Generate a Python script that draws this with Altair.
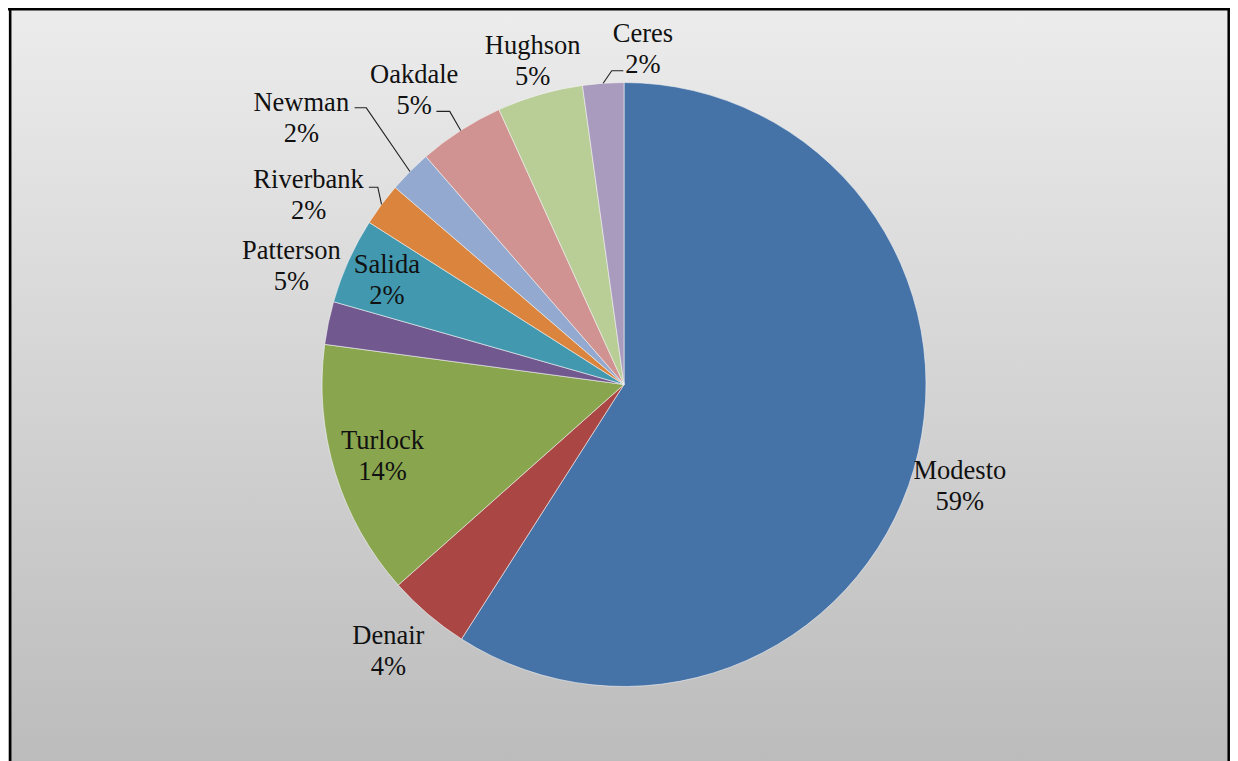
import math
import altair as alt
import pandas as pd

# ---- data ----
towns = ["Modesto", "Denair", "Turlock", "Salida", "Patterson",
         "Riverbank", "Newman", "Oakdale", "Hughson", "Ceres"]
shares = [59.1, 4.4, 13.7, 2.3, 4.6, 2.3, 2.3, 4.6, 4.6, 2.2]
pct_labels = ["59%", "4%", "14%", "2%", "5%", "2%", "2%", "5%", "5%", "2%"]
colors = ["#4572A7", "#AA4643", "#89A54E", "#71588F", "#4198AF",
          "#DB843D", "#93A9CF", "#D19392", "#B9CD96", "#A99BBD"]

# ---- layout (label placement relative to slice mid-angle) ----
W, H = 1222, 753
CX, CY, R = 616, 376.5, 302
LINE_H = 31
label_angle_offset = [0.6, 1.0, 0.4, 11.9, -4.6, -5.6, -5.4, -2.8, 0.4, 7.2]
label_radius = [351, 356, 252, 259, 353, 368, 418, 361, 336, 336]
# leader lines: (start dx, elbow dx, dy) relative to label centre
leaders = {
    "Newman": (53.3, 65.0, -11.0),
    "Riverbank": (60.3, 69.3, -7.7),
    "Oakdale": (22.2, 35.5, 20.7),
    "Ceres": (-19.7, -31.3, 21.7),
}

total = sum(shares)
mids = []
cum = 0.0
for s in shares:
    mids.append((cum + s / 2) / total * 2 * math.pi)
    cum += s

label_theta = [m + math.radians(o) for m, o in zip(mids, label_angle_offset)]

df = pd.DataFrame({
    "town": towns,
    "share": shares,
    "order": list(range(len(towns))),
    "label": [f"{t}\n{p}" for t, p in zip(towns, pct_labels)],
    "ltheta": label_theta,
    "lrad": label_radius,
})

rows = []
for i, t in enumerate(towns):
    if t not in leaders:
        continue
    sdx, edx, dy = leaders[t]
    lx = CX + label_radius[i] * math.sin(label_theta[i])
    ly = CY - label_radius[i] * math.cos(label_theta[i])
    rows.append({"town": t, "pt": 0, "x": lx + sdx, "y": ly + dy})
    rows.append({"town": t, "pt": 1, "x": lx + edx, "y": ly + dy})
    rows.append({"town": t, "pt": 2, "x": CX + R * math.sin(mids[i]),
                 "y": CY - R * math.cos(mids[i])})
lead_df = pd.DataFrame(rows)

one = pd.DataFrame({"a": [0]})

background = alt.Chart(one).mark_rect(
    fill=alt.Gradient(
        gradient="linear",
        stops=[alt.GradientStop(color="#ececec", offset=0),
               alt.GradientStop(color="#bcbcbc", offset=1)],
        x1=0, x2=0, y1=0, y2=1,
    )
).encode(x=alt.value(0), x2=alt.value(W), y=alt.value(0), y2=alt.value(H))

border_top = alt.Chart(one).mark_rule(color="#000000", strokeWidth=2.5).encode(
    x=alt.value(0), x2=alt.value(W), y=alt.value(1.2))
border_left = alt.Chart(one).mark_rule(color="#000000", strokeWidth=2.5).encode(
    x=alt.value(2.2), y=alt.value(0), y2=alt.value(H))
border_right = alt.Chart(one).mark_rule(color="#000000", strokeWidth=2.5).encode(
    x=alt.value(W - 1.3), y=alt.value(0), y2=alt.value(H))

pie = alt.Chart(df).mark_arc(
    outerRadius=R, stroke="#f4f4f4", strokeWidth=0.6
).encode(
    theta=alt.Theta("share:Q", stack=True),
    color=alt.Color("town:N", scale=alt.Scale(domain=towns, range=colors), legend=None),
    order=alt.Order("order:Q"),
    x=alt.value(CX),
    y=alt.value(CY),
)

labels = alt.Chart(df).mark_text(
    font="'Liberation Serif', 'Times New Roman', serif", fontSize=26.5,
    lineHeight=LINE_H, lineBreak="\n", dy=-LINE_H / 2,
    color="#111111", align="center", baseline="middle",
).encode(
    text="label:N",
    theta=alt.Theta("ltheta:Q", scale=None),
    radius=alt.Radius("lrad:Q", scale=None),
    x=alt.value(CX),
    y=alt.value(CY),
)

lead = alt.Chart(lead_df).mark_line(color="#222222", strokeWidth=1.1).encode(
    x=alt.X("x:Q", scale=None, axis=None),
    y=alt.Y("y:Q", scale=None, axis=None),
    detail="town:N",
    order="pt:Q",
)

chart = alt.layer(
    background, pie, lead, labels, border_top, border_left, border_right
).properties(
    width=W, height=H, autosize="none", padding=0
).configure_view(strokeWidth=0)

chart.save("out.html", embed_options={"renderer": "svg", "actions": False})
